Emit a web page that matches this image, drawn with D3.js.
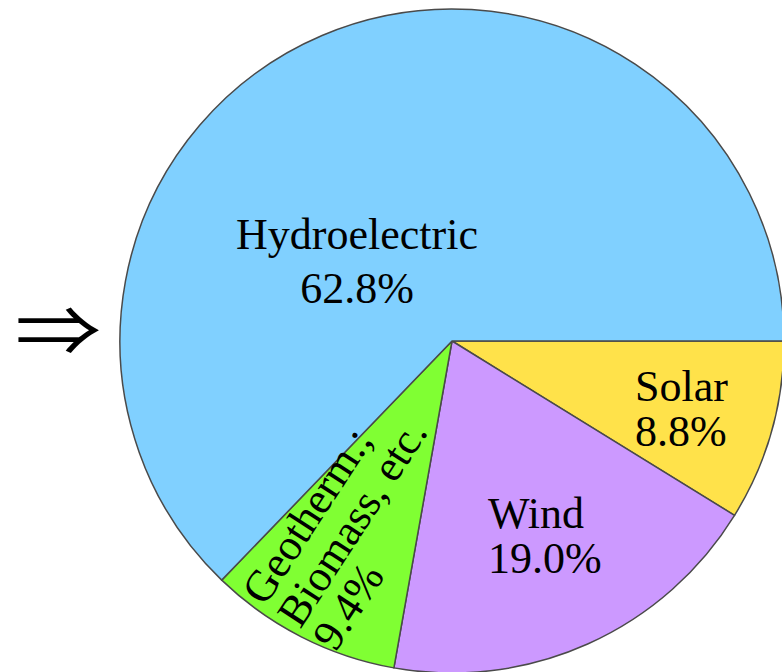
<!DOCTYPE html>
<html lang="en">
<head>
    <script src="https://cdnjs.cloudflare.com/ajax/libs/d3/7.8.5/d3.min.js"></script>
    <style>
        body { margin: 0; background: #fff; }
    </style>
</head>
<body>
<script>
// data, slice order is clockwise from 3 o'clock
var categories = ["Solar", "Wind", "Geotherm.; Biomass, etc.", "Hydroelectric"]
var labelNames = [["Solar"], ["Wind"], ["Geotherm.;", "Biomass, etc."], ["Hydroelectric"]]
var shares = [8.8, 19.0, 9.4, 62.8]

var colors = ["#ffe24a", "#cc99ff", "#80ff33", "#80d0ff"]

// label placement, one entry per slice
var labelLayout = [
        {x: 635, y: 401, anchor: "start", rotate: 0, lineHeight: 45},
        {x: 488, y: 528, anchor: "start", rotate: 0, lineHeight: 45},
        {x: 265, y: 607, anchor: "start", rotate: -57, lineHeight: 42},
        {x: 357, y: 249, anchor: "middle", rotate: 0, lineHeight: 54}
]

var width = 782
var height = 672
var cx = 452
var cy = 341
var radius = 332
var stroke = "#4a4a4a"
var fontSize = 44

var svg = d3.select("body").append("svg")
        .attr("width", width)
        .attr("height", height)
        .attr("font-family", "'Liberation Serif', 'Times New Roman', serif")

var pie = d3.pie()
        .sort(null)
        .value(d => d.value)
        .startAngle(Math.PI / 2)
        .endAngle(Math.PI / 2 + 2 * Math.PI)

var arc = d3.arc().innerRadius(0).outerRadius(radius)

var data = categories.map((c, i) => ({name: c, value: shares[i], color: colors[i], lines: labelNames[i]}))
var arcs = pie(data)

var g = svg.append("g").attr("transform", `translate(${cx},${cy})`)

g.selectAll("path")
        .data(arcs)
        .join("path")
        .attr("d", arc)
        .attr("fill", d => d.data.color)
        .attr("stroke", stroke)
        .attr("stroke-width", 1.5)
        .attr("stroke-linejoin", "round")

var fmt = d => d3.format(".1f")(d) + "%"

var labels = svg.append("g").attr("class", "labels")
        .selectAll("text")
        .data(arcs)
        .join("text")
        .attr("font-size", fontSize)
        .attr("fill", "#000")
        .attr("text-anchor", (d, i) => labelLayout[i].anchor)
        .attr("transform", (d, i) => `translate(${labelLayout[i].x},${labelLayout[i].y}) rotate(${labelLayout[i].rotate})`)

labels.selectAll("tspan")
        .data((d, i) => d.data.lines.concat([fmt(d.data.value)]).map((t, j) => ({t: t, j: j, lh: labelLayout[i].lineHeight})))
        .join("tspan")
        .attr("x", 0)
        .attr("y", d => d.j * d.lh)
        .text(d => d.t)

// arrow at the left
svg.append("text")
        .attr("x", 15)
        .attr("y", 356)
        .attr("font-family", "'Noto Sans CJK JP', sans-serif")
        .attr("font-size", 68)
        .attr("textLength", 86)
        .attr("lengthAdjust", "spacingAndGlyphs")
        .text("\u21D2")
</script>
</body>
</html>
